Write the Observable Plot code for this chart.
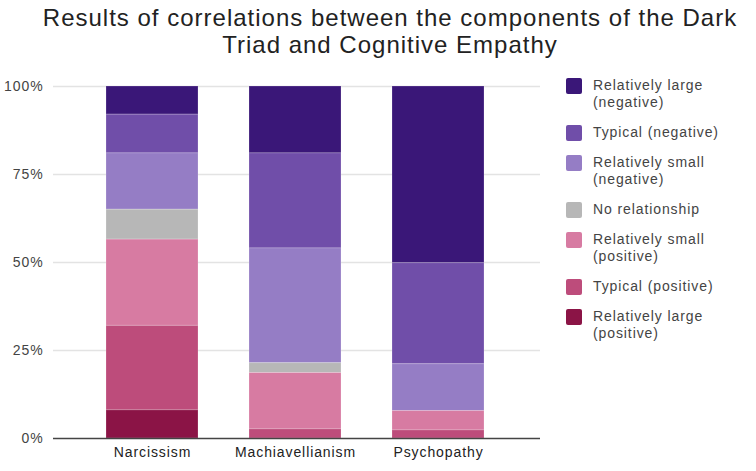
<!DOCTYPE html>
<html>
<head>
<meta charset="utf-8">
<script src="https://cdn.jsdelivr.net/npm/d3@7"></script>
<script src="https://cdn.jsdelivr.net/npm/@observablehq/plot@0.6"></script>
<style>
  body { margin: 0; background: #fff; font-family: "Liberation Sans", Arial, sans-serif; }
  #wrap { position: relative; width: 756px; height: 471px; overflow: hidden; }
  #title { position: absolute; left: 0; top: 4px; width: 780px; text-align: center; font-size: 24px; line-height: 27px; color: #222; letter-spacing: 1.0px; }
  #chart { position: absolute; left: 0; top: 68px; }
  #chart svg text { letter-spacing: 0.9px; }
  #legend { position: absolute; left: 566px; top: 77px; }
  .item { display: flex; align-items: flex-start; margin-bottom: 13px; }
  .sw { width: 16px; height: 16px; border-radius: 2px; margin-top: 1px; margin-right: 11px; flex: none; }
  .lab { font-size: 14px; line-height: 17px; color: #444; white-space: pre; letter-spacing: 0.9px; }
</style>
</head>
<body>
<div id="wrap">
  <div id="title">Results of correlations between the components of the Dark<br>Triad and Cognitive Empathy</div>
  <div id="chart"></div>
  <div id="legend"></div>
</div>
<script>
const groups = ["Narcissism", "Machiavellianism", "Psychopathy"];
const categories = [
  "Relatively large (negative)",
  "Typical (negative)",
  "Relatively small (negative)",
  "No relationship",
  "Relatively small (positive)",
  "Typical (positive)",
  "Relatively large (positive)"
];
const legendLabels = [
  "Relatively large\n(negative)",
  "Typical (negative)",
  "Relatively small\n(negative)",
  "No relationship",
  "Relatively small\n(positive)",
  "Typical (positive)",
  "Relatively large\n(positive)"
];
const colors = ["#3a1778", "#704ea9", "#957dc5", "#b7b7b7", "#d77ba2", "#bd4c7b", "#8b1446"];
// values in % per category (same order as categories)
const narcissism = [8, 11, 16, 8.5, 24.5, 24, 8];
const machiavellianism = [19, 27, 32.6, 2.8, 16, 2.6, 0];
const psychopathy = [50.2, 28.7, 13.3, 0, 5.5, 2.3, 0];
const yTicks = [0, 25, 50, 75, 100];

const series = [narcissism, machiavellianism, psychopathy];
const data = [];
groups.forEach((g, gi) => {
  categories.forEach((c, ci) => {
    data.push({group: g, category: c, value: series[gi][ci]});
  });
});

const chart = Plot.plot({
  width: 756,
  height: 403,
  marginLeft: 53,
  marginRight: 216,
  marginTop: 18,
  marginBottom: 33,
  style: {fontFamily: "'Liberation Sans', Arial, sans-serif", background: "#fff"},
  x: {domain: groups, paddingInner: 0.36, paddingOuter: 0.38, align: 0.485, label: null},
  y: {domain: [0, 100], label: null},
  color: {domain: categories, range: colors},
  marks: [
    Plot.ruleY(yTicks.filter(d => d > 0), {stroke: "#e3e3e3", strokeWidth: 1.5}),
    Plot.barY(data, {
      x: "group", y: "value", fill: "category",
      order: [...categories].reverse(),
      stroke: "white", strokeOpacity: 0.2, strokeWidth: 1
    }),
    Plot.ruleY([0], {stroke: "#444", strokeWidth: 1.5}),
    Plot.axisY({ticks: yTicks, tickFormat: d => d + "%", tickSize: 0, tickPadding: 10, fontSize: 14, color: "#444", label: null}),
    Plot.axisX({tickSize: 0, tickPadding: 9, fontSize: 14, color: "#222", label: null})
  ]
});
document.getElementById("chart").appendChild(chart);

const legend = document.getElementById("legend");
categories.forEach((c, i) => {
  const item = document.createElement("div");
  item.className = "item";
  const sw = document.createElement("div");
  sw.className = "sw";
  sw.style.background = colors[i];
  const lab = document.createElement("div");
  lab.className = "lab";
  lab.textContent = legendLabels[i];
  item.appendChild(sw);
  item.appendChild(lab);
  legend.appendChild(item);
});
</script>
</body>
</html>
